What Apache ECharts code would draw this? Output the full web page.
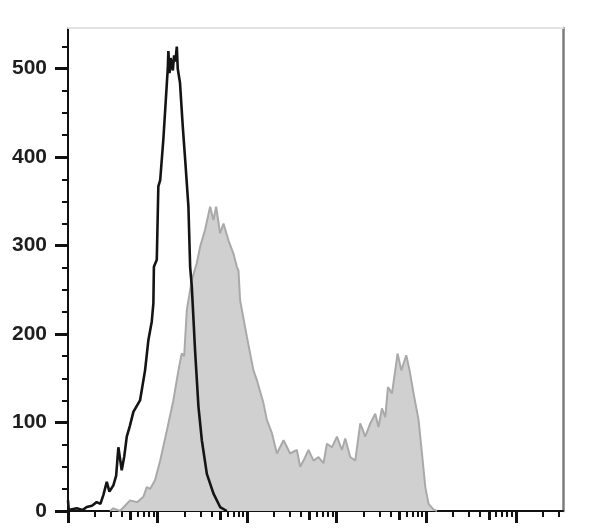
<!DOCTYPE html>
<html>
<head>
<meta charset="utf-8">
<script src="https://cdn.jsdelivr.net/npm/echarts@6/dist/echarts.min.js"></script>
<style>html,body{margin:0;padding:0;background:#fff}#c{width:590px;height:529px}</style>
</head>
<body>
<div id="c"></div>
<script>
// Control (black outline) histogram: intensity vs count
const controlX = [1.0, 1.02, 1.25, 1.45, 1.62, 1.85, 2.09, 2.3, 2.48, 2.71, 2.9, 3.21, 3.45, 3.65, 3.98, 4.25, 4.53, 4.9, 5.37, 5.8, 6.37, 7.25, 7.89, 8.61, 8.98, 9.1, 9.8, 10.2, 10.7, 11.6, 12.7, 13.0, 13.2, 13.6, 14.0, 14.4, 14.8, 15.3, 15.8, 16.4, 16.8, 17.8, 19.1, 20.3, 22.1, 23.1, 24.1, 26.2, 28.6, 31.2, 35.5, 42.0, 49.9, 59.3];
const controlY = [12, 1, 3, 1, 4.5, 6, 10, 8, 18, 33, 22, 29, 40, 72, 46, 62, 84, 96, 112, 118, 125, 159, 193, 214, 235, 276, 284, 367, 374, 420, 484, 500, 520, 495, 512, 505, 498, 515, 508, 525, 500, 484, 435, 398, 344, 276, 254, 182, 118, 80, 42, 20, 4.5, 0];

// Stained sample (grey filled) histogram
const sampleX = [2.95, 3.21, 3.81, 4.93, 5.90, 6.94, 7.57, 8.25, 9.38, 10.7, 12.7, 15.0, 17.1, 18.6, 19.8, 21.2, 24.1, 27.4, 29.9, 33.9, 38.6, 42.0, 45.1, 49.9, 54.4, 61.8, 70.3, 76.7, 80.0, 83.5, 99.3, 117.6, 128.3, 152, 166, 189, 215, 255, 302, 359, 391, 426, 484, 551, 626, 712, 777, 884, 1005, 1143, 1245, 1416, 1611, 1832, 2083, 2368, 2692, 2931, 3199, 3484, 3733, 4138, 4505, 4780, 5260, 5980, 6505, 7210, 8200, 8950, 9750, 10600, 12080, 13180];
const sampleY = [0, 3, 0, 12, 10, 16, 27, 25, 35, 57, 91, 125, 159, 178, 175, 227, 261, 280, 299, 318, 344, 329, 344, 314, 325, 306, 291, 276, 272, 238, 197, 159, 148, 122, 103, 88, 65, 80, 65, 69, 50, 57, 69, 57, 61, 54, 76, 72, 84, 69, 82, 61, 57, 99, 84, 99, 110, 95, 116, 106, 140, 133, 159, 178, 159, 176, 159, 133, 103, 65, 27, 8, 1.5, 0];

// Axis ticks
const yTicks = [0, 100, 200, 300, 400, 500];
const yMinorTicks = [25, 50, 75, 125, 150, 175, 225, 250, 275, 325, 350, 375, 425, 450, 475, 525];
const xDecadeTicks = [1, 10, 100, 1000, 10000, 100000];
const xMidTicks = [5, 50, 500, 5000, 50000];
const xMinorTicks = [2, 3, 4, 6, 7, 8, 9, 20, 30, 40, 60, 70, 80, 90, 200, 300, 400, 600, 700, 800, 900, 2000, 3000, 4000, 6000, 7000, 8000, 9000, 20000, 30000, 40000, 60000, 70000, 80000, 90000, 200000, 300000];
const xMin = 1, xMax = 336000, yMin = 0, yMax = 546;

const zip = (a, b) => a.map((v, i) => [v, b[i]]);

const chart = echarts.init(document.getElementById('c'), null, {renderer: 'canvas'});
const tickAxisX = (vals, len, w) => ({
  type: 'log', gridIndex: 0, position: 'bottom', min: xMin, max: xMax,
  axisLine: {show: false, onZero: false},
  axisTick: {show: true, customValues: vals, length: len, lineStyle: {color: '#111', width: w}},
  axisLabel: {show: false}, splitLine: {show: false}
});
chart.setOption({
  animation: false,
  backgroundColor: '#fff',
  grid: {left: 68, right: 27, top: 28, bottom: 18, containLabel: false},
  xAxis: [
    {
      type: 'log', position: 'bottom', min: xMin, max: xMax,
      axisLine: {show: true, onZero: false, lineStyle: {color: '#111', width: 2}},
      axisTick: {show: true, customValues: xDecadeTicks, length: 12, lineStyle: {color: '#111', width: 3}},
      axisLabel: {show: false}, splitLine: {show: false}
    },
    tickAxisX(xMidTicks, 9, 3),
    tickAxisX(xMinorTicks, 6, 2),
    {
      type: 'log', position: 'top', min: xMin, max: xMax,
      axisLine: {show: true, onZero: false, lineStyle: {color: '#e2e2e2', width: 2}},
      axisTick: {show: false}, axisLabel: {show: false}, splitLine: {show: false}
    }
  ],
  yAxis: [
    {
      type: 'value', position: 'left', min: yMin, max: yMax,
      axisLine: {show: true, onZero: false, lineStyle: {color: '#111', width: 2}},
      axisTick: {show: true, customValues: yTicks, length: 13, lineStyle: {color: '#111', width: 3}},
      axisLabel: {show: true, customValues: yTicks, margin: 21, color: '#1e1e1e',
        fontSize: 21, fontWeight: 'bold', padding: [4, 0, 0, 0],
        fontFamily: '"Liberation Sans", Arial, sans-serif'},
      splitLine: {show: false}
    },
    {
      type: 'value', position: 'left', min: yMin, max: yMax,
      axisLine: {show: false, onZero: false},
      axisTick: {show: true, customValues: yMinorTicks, length: 6, lineStyle: {color: '#111', width: 2}},
      axisLabel: {show: false}, splitLine: {show: false}
    },
    {
      type: 'value', position: 'right', min: yMin, max: yMax,
      axisLine: {show: true, onZero: false, lineStyle: {color: '#7c7c7c', width: 2.5}},
      axisTick: {show: false}, axisLabel: {show: false}, splitLine: {show: false}
    }
  ],
  series: [
    {
      type: 'line', xAxisIndex: 0, yAxisIndex: 0, data: zip(sampleX, sampleY),
      symbol: 'none', smooth: false, z: 2,
      lineStyle: {color: '#a9a9a9', width: 2},
      areaStyle: {color: '#d0d0d0', opacity: 1, origin: 'start'}
    },
    {
      type: 'line', xAxisIndex: 0, yAxisIndex: 0, data: zip(controlX, controlY),
      symbol: 'none', smooth: false, z: 3,
      lineStyle: {color: '#141414', width: 2.6}
    }
  ]
});
</script>
</body>
</html>
